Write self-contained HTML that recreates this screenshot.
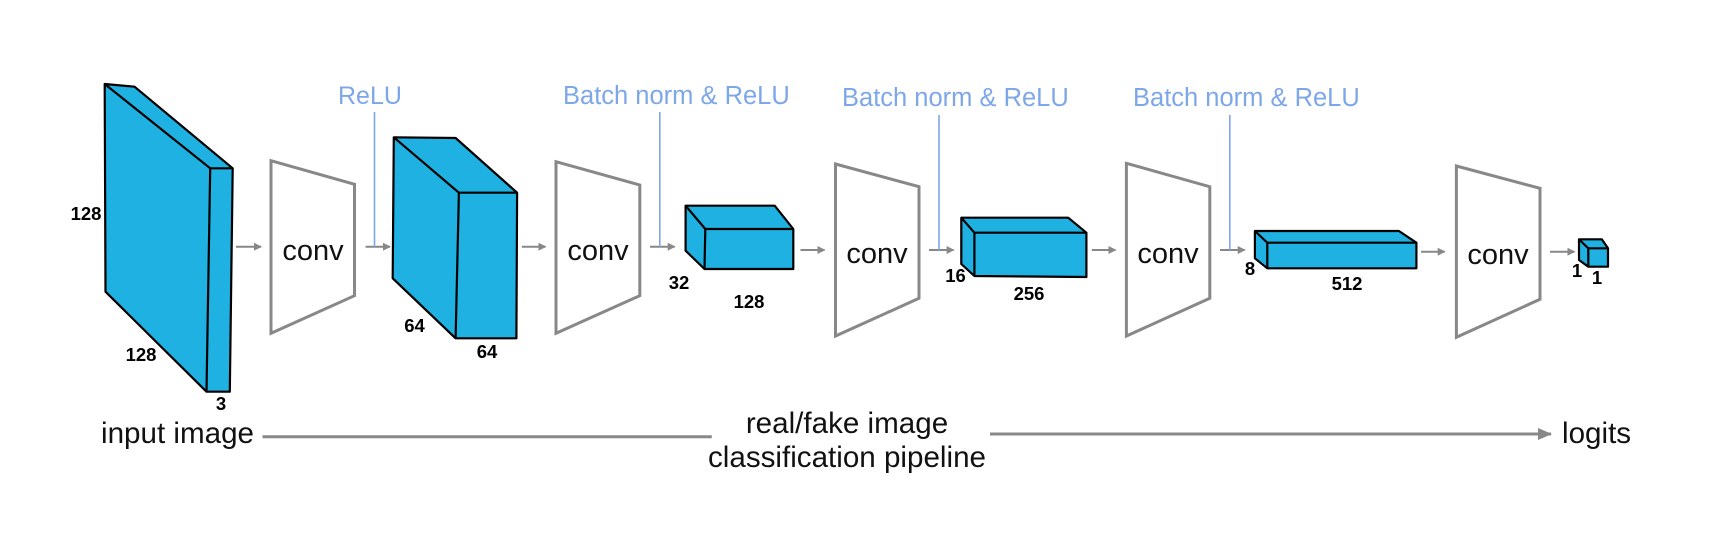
<!DOCTYPE html>
<html><head><meta charset="utf-8"><style>
html,body{margin:0;padding:0;background:#fff;}
svg{display:block;}
.t{font-family:"Liberation Sans",sans-serif;}
</style></head><body>
<svg width="1710" height="556" viewBox="0 0 1710 556" xmlns="http://www.w3.org/2000/svg">
<defs>
<marker id="ah" markerWidth="8" markerHeight="8" refX="7" refY="4" orient="auto" markerUnits="userSpaceOnUse">
<path d="M0,0 L8,4 L0,8 Z" fill="#888"/></marker>
<marker id="ahb" markerWidth="14" markerHeight="12" refX="13" refY="6" orient="auto" markerUnits="userSpaceOnUse">
<path d="M0,0 L14,6 L0,12 Z" fill="#888"/></marker>
</defs>
<rect width="1710" height="556" fill="#fff"/>
<g fill="#1fb1e1" stroke="#000" stroke-width="2.2" stroke-linejoin="round">
<polygon points="104.7,84 134.5,86.7 232.7,168.3 229.8,391.7 206.5,391.7 105.5,291.7"/>
<polyline points="104.7,84 210.2,168.3 232.7,168.3" fill="none"/>
<line x1="210.2" y1="168.3" x2="206.5" y2="391.7"/>
<polygon points="393.8,137.3 455.6,138 517.1,192.7 516.4,338.3 455.6,338.3 392.7,278.3"/>
<polyline points="393.8,137.3 458.9,192.7 517.1,192.7" fill="none"/>
<line x1="458.9" y1="192.7" x2="455.6" y2="338.3"/>
<polygon points="685.6,205.7 774.7,205.7 793.3,229 793.3,269 704.5,269 685.6,250.7"/>
<polyline points="685.6,205.7 705.3,229 793.3,229" fill="none"/>
<line x1="705.3" y1="229" x2="704.5" y2="269"/>
<polygon points="961.3,217.7 1068.2,217.7 1086.4,232.7 1086.4,277 974.4,276 961.3,264"/>
<polyline points="961.3,217.7 974.4,232.7 1086.4,232.7" fill="none"/>
<line x1="974.4" y1="232.7" x2="974.4" y2="276"/>
<polygon points="1254.9,231 1398.9,231 1416.4,242.7 1416.4,268.3 1267.3,268.3 1254.9,258.3"/>
<polyline points="1254.9,231 1267.3,242.7 1416.4,242.7" fill="none"/>
<line x1="1267.3" y1="242.7" x2="1267.3" y2="268.3"/>
<polygon points="1579,239.3 1601.8,239.3 1608,248.3 1608,266.7 1588.3,266.7 1579,260"/>
<polyline points="1579,239.3 1588.3,248.3 1608,248.3" fill="none"/>
<line x1="1588.3" y1="248.3" x2="1588.3" y2="266.7"/>
</g>
<g fill="#fff" stroke="#888" stroke-width="3">
<polygon points="271,160.7 354.5,184.3 354.5,295.7 271,333.3"/>
<polygon points="556,161.7 639.8,185 639.8,295.7 556,333.3"/>
<polygon points="835.5,164 919,186.7 919,298.3 835.5,336"/>
<polygon points="1126.4,163.3 1209.8,186.7 1209.8,298.3 1126.4,336"/>
<polygon points="1456.4,166 1540,188.3 1540,299.3 1456.4,337.3"/>
</g>
<g class="t" font-size="29" fill="#111" text-anchor="middle">
<text x="313" y="260">conv</text>
<text x="598" y="260">conv</text>
<text x="877" y="263">conv</text>
<text x="1168" y="263">conv</text>
<text x="1498" y="264">conv</text>
</g>
<g stroke="#888" stroke-width="2" marker-end="url(#ah)">
<line x1="236" y1="246.7" x2="261" y2="246.7"/>
<line x1="365.5" y1="246.7" x2="390" y2="246.7"/>
<line x1="521.8" y1="246.7" x2="545.5" y2="246.7"/>
<line x1="650" y1="246.7" x2="674.7" y2="246.7"/>
<line x1="800.5" y1="250" x2="824.5" y2="250"/>
<line x1="929" y1="250" x2="953.6" y2="250"/>
<line x1="1091.8" y1="250" x2="1115.5" y2="250"/>
<line x1="1220" y1="250" x2="1244.7" y2="250"/>
<line x1="1421" y1="251.7" x2="1444.7" y2="251.7"/>
<line x1="1550" y1="251.7" x2="1574.5" y2="251.7"/>
</g>
<g stroke="#7da7e8" stroke-width="1.6">
<line x1="374.5" y1="112" x2="374.5" y2="246.7"/>
<line x1="659.8" y1="112" x2="659.8" y2="246.7"/>
<line x1="939" y1="115" x2="939" y2="250"/>
<line x1="1229.8" y1="115" x2="1229.8" y2="250"/>
</g>
<g class="t" font-size="25.5" fill="#7da7e8">
<text x="338" y="104" font-size="25">ReLU</text>
<text x="563" y="104">Batch norm &amp; ReLU</text>
<text x="842" y="106">Batch norm &amp; ReLU</text>
<text x="1133" y="106">Batch norm &amp; ReLU</text>
</g>
<g class="t" font-size="18.5" font-weight="bold" fill="#000" text-anchor="middle">
<text x="86" y="220">128</text>
<text x="141" y="361">128</text>
<text x="221" y="410">3</text>
<text x="414.5" y="332">64</text>
<text x="487" y="358">64</text>
<text x="679" y="289">32</text>
<text x="749" y="308">128</text>
<text x="955.5" y="282">16</text>
<text x="1029" y="300">256</text>
<text x="1250" y="275">8</text>
<text x="1347" y="290">512</text>
<text x="1577" y="277">1</text>
<text x="1597" y="284">1</text>
</g>
<line x1="262.5" y1="436.7" x2="711.8" y2="436.7" stroke="#888" stroke-width="3"/>
<line x1="990" y1="434" x2="1551" y2="434" stroke="#888" stroke-width="3" marker-end="url(#ahb)"/>
<g class="t" font-size="29.6" fill="#111">
<text x="101" y="443">input image</text>
<text x="1562" y="443">logits</text>
<text x="847" y="433" text-anchor="middle">real/fake image</text>
<text x="847" y="467" text-anchor="middle">classification pipeline</text>
</g>
</svg>
</body></html>
